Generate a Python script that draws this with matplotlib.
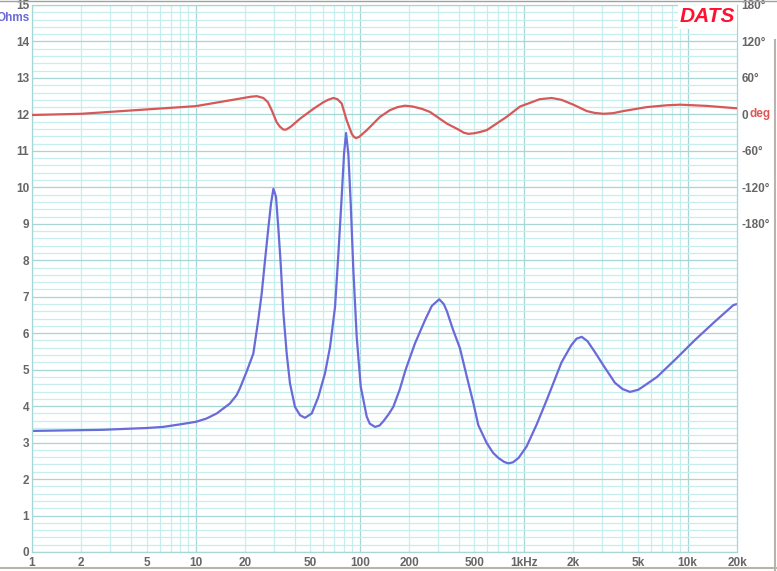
import numpy as np
import matplotlib
matplotlib.use("Agg")
import matplotlib.pyplot as plt
from matplotlib.ticker import FixedLocator, NullFormatter

# impedance magnitude (Ohms)
imp_freq = [1, 2.67, 5, 6.3, 8.0, 10, 11.6, 13.4, 16.1, 17.7, 18.6, 20.4, 22.4, 24.0,
            25.2, 26.4, 27.7, 28.7, 29.7, 30.8, 31.8, 32.9, 34.2, 35.8, 37.5, 40.2,
            43.2, 46.3, 50.9, 55.8, 61.3, 65.8, 70.6, 74.0, 77.5, 80.1, 82.4, 85.1,
            88.0, 91.3, 95.7, 101.3, 110.2, 115, 123.8, 132, 140, 150, 160, 175, 190,
            217, 250, 275, 305, 325, 340, 370, 408, 450, 493, 528, 594, 650, 700, 760,
            806, 860, 930, 1040, 1200, 1390, 1700, 1950, 2100, 2259, 2450, 2700, 3100,
            3600, 4000, 4454, 5000, 5400, 6500, 8500, 11000, 14500, 19000, 20000]
imp_ohms = [3.32, 3.35, 3.40, 3.43, 3.50, 3.57, 3.66, 3.80, 4.07, 4.30, 4.50, 4.95, 5.44, 6.36,
            7.09, 8.00, 8.91, 9.55, 9.96, 9.74, 8.91, 7.91, 6.54, 5.44, 4.62, 3.98,
            3.75, 3.68, 3.80, 4.25, 4.90, 5.62, 6.72, 8.18, 9.74, 10.92, 11.49, 10.92,
            9.55, 7.73, 5.90, 4.53, 3.71, 3.52, 3.43, 3.47, 3.60, 3.78, 3.98, 4.45, 4.99,
            5.72, 6.36, 6.75, 6.93, 6.80, 6.60, 6.10, 5.59, 4.80, 4.08, 3.48, 2.99, 2.72, 2.58, 2.47,
            2.43, 2.46, 2.58, 2.89, 3.50, 4.20, 5.20, 5.67, 5.85, 5.90, 5.78, 5.50, 5.08,
            4.64, 4.47, 4.39, 4.45, 4.55, 4.80, 5.30, 5.80, 6.30, 6.77, 6.80]

# phase (degrees)
ph_freq = [1, 2.0, 10, 19.5, 21.5, 23.5, 25.8, 27.5, 29.0, 31.1, 32.5, 34.2, 35.5, 38,
           43.2, 52.0, 59.9, 64, 68.9, 73, 77.5, 83.2, 89.3, 92, 94.8, 99, 104, 110.2,
           132.8, 152.8, 170, 188.7, 210, 240, 268, 339, 400, 430, 459, 500, 540,
           594, 787, 949, 1092, 1250, 1482, 1700, 2008, 2423, 2700, 3061, 3500, 4053,
           5626, 7460, 8995, 13070, 20000]
ph_deg = [-1, 1, 13.6, 27, 29, 30, 27, 20, 7, -13, -20, -25, -25, -20,
          -7, 9, 20, 24, 27, 25, 18, -10, -32, -37, -39, -37, -32, -26,
          -4, 7, 12, 14.3, 13, 9, 4, -15, -25, -30, -32, -31, -29,
          -26, -4, 13, 19, 25, 27, 24, 16, 5.5, 2.5, 1, 2, 5.5,
          12, 15, 16, 14, 10]

x_ticks = [1, 2, 5, 10, 20, 50, 100, 200, 500, 1000, 2000, 5000, 10000, 20000]
x_labels = ['1', '2', '5', '10', '20', '50', '100', '200', '500', '1kHz', '2k', '5k', '10k', '20k']
ph_ticks = [180, 120, 60, 0, -60, -120, -180]
ph_labels = ['180°', '120°', '60°', '0', '-60°', '-120°', '-180°']

W, H = 777, 571
fig = plt.figure(figsize=(W / 100, H / 100), dpi=100)
fig.patch.set_facecolor('white')
ax = fig.add_axes([32 / W, 1 - 552 / H, 705 / W, 547 / H])

minor_c = '#c6eeee'
major_c = '#a6d6d6'
lab_c = '#666666'
fnt = dict(family=['Liberation Sans', 'DejaVu Sans'], weight='bold', size=8.5)

ax.set_xscale('log')
ax.set_xlim(1, 20000)
ax.set_ylim(0, 15)

# grid
minors_x = [m * 10 ** d for d in range(0, 5) for m in range(2, 10) if m * 10 ** d < 20000]
ax.xaxis.set_major_locator(FixedLocator([1, 10, 100, 1000, 10000]))
ax.xaxis.set_minor_locator(FixedLocator(minors_x))
ax.yaxis.set_major_locator(FixedLocator(range(0, 16)))
ax.yaxis.set_minor_locator(FixedLocator(np.arange(0, 15.01, 0.2)))
ax.grid(True, which='minor', color=minor_c, lw=0.9)
ax.grid(True, which='major', color=major_c, lw=0.9)
ax.set_axisbelow(True)
ax.tick_params(which='both', length=0)
ax.xaxis.set_major_formatter(NullFormatter())
ax.xaxis.set_minor_formatter(NullFormatter())
ax.set_yticklabels([str(i) for i in range(16)], **fnt, color=lab_c)
ax.tick_params(axis='y', pad=2)
for s in ax.spines.values():
    s.set_color(major_c)
    s.set_linewidth(0.9)

for f, lab in zip(x_ticks, x_labels):
    ax.text(f, -0.14, lab, ha='center', va='top', color=lab_c, **fnt)

# phase on its own scale: 0 deg at 12 ohm, 60 deg per ohm
ax2 = ax.twinx()
ax2.set_ylim(-720, 180)
ax2.set_yticks(ph_ticks)
ax2.set_yticklabels(ph_labels, **fnt, color=lab_c)
ax2.tick_params(length=0, pad=3)
for s in ax2.spines.values():
    s.set_visible(False)
ax2.annotate('deg', xy=(1.0, 0), xycoords=ax2.get_yaxis_transform(),
             xytext=(12, 0), textcoords='offset pixels', ha='left', va='center',
             color='#dd5555', **fnt)

ax.plot(imp_freq, imp_ohms, color='#6a6ad8', lw=1.6, solid_joinstyle='round')
ax2.plot(ph_freq, ph_deg, color='#d85858', lw=1.6, solid_joinstyle='round')

fig.text(30 / W, 1 - 18 / H, 'Ohms', ha='right', va='center', color='#6a6ad8', **fnt)
fig.text(735 / W, 1 - 17 / H, 'DATS', ha='right', va='center', color='#ff1030',
         family=['Liberation Sans', 'DejaVu Sans'], weight='bold', style='italic', size=15,
         bbox=dict(facecolor='white', edgecolor='none', pad=1.5))

# window frame remnants
fig.add_artist(plt.Line2D([0, 1], [1 - 0.5 / H, 1 - 0.5 / H], color='#a0a0a0', lw=1))
fig.add_artist(plt.Line2D([0, 1], [1 - 568 / H, 1 - 568 / H], color='#b8b4ac', lw=1.5))
fig.add_artist(plt.Line2D([775 / W, 775 / W], [0, 1 - 40 / H], color='#b8b4ac', lw=1.5))

fig.savefig('out.png', dpi=100)
